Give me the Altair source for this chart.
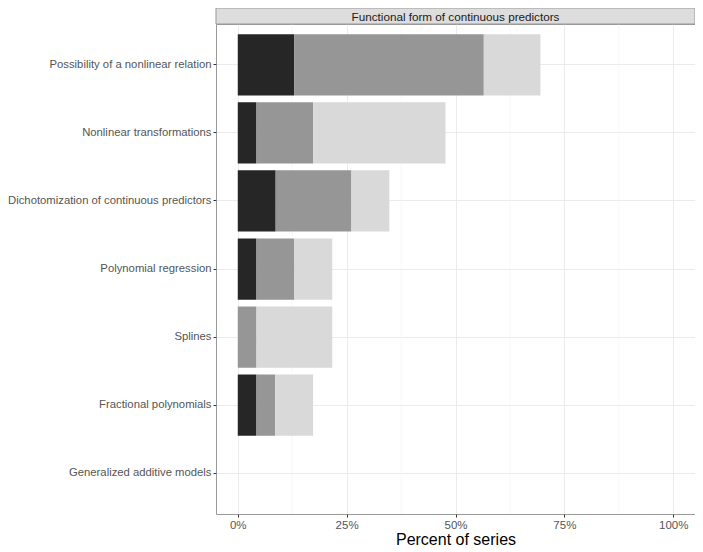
import altair as alt
import pandas as pd

# ---- data ----
categories = [
    "Possibility of a nonlinear relation",
    "Nonlinear transformations",
    "Dichotomization of continuous predictors",
    "Polynomial regression",
    "Splines",
    "Fractional polynomials",
    "Generalized additive models",
]
series = ["Group 1", "Group 2", "Group 3"]
# segment widths (percent of series), per category, per series
seg_dark = [13.0, 4.3, 8.7, 4.3, 0.0, 4.3, 0.0]
seg_mid = [43.5, 13.0, 17.4, 8.7, 4.3, 4.3, 0.0]
seg_light = [13.0, 30.4, 8.7, 8.7, 17.4, 8.7, 0.0]
colors = ["#262626", "#969696", "#D9D9D9"]
major_ticks = [0, 25, 50, 75, 100]
minor_ticks = [12.5, 37.5, 62.5, 87.5]
strip_label = "Functional form of continuous predictors"

rows = []
for i, cat in enumerate(categories):
    for j, vals in enumerate([seg_dark, seg_mid, seg_light]):
        rows.append({"category": cat, "series": series[j], "value": vals[i], "order": j})
df = pd.DataFrame(rows)

W = 479
H = 490
STRIP_H = 16
FONT = "Liberation Sans"

xscale = alt.Scale(domain=[-5, 105], nice=False, zero=False)

minor = alt.Chart(pd.DataFrame({"v": minor_ticks})).mark_rule(
    color="#F2F2F2", strokeWidth=0.6
).encode(x=alt.X("v:Q", scale=xscale))

bars = alt.Chart(df).mark_bar(stroke=None).encode(
    y=alt.Y(
        "category:N",
        sort=categories,
        scale=alt.Scale(paddingInner=0.1, paddingOuter=0.15),
        axis=alt.Axis(
            title=None, domain=False, grid=True, gridColor="#EBEBEB",
            tickColor="#333333", tickSize=3, labelColor="#555555",
            labelFontSize=11.3, labelLimit=0, labelPadding=2,
        ),
    ),
    x=alt.X(
        "value:Q",
        stack="zero",
        scale=xscale,
        axis=alt.Axis(
            values=major_ticks, labelExpr="datum.value + '%'",
            title="Percent of series", titleFontSize=16, titleFontWeight="normal",
            titleColor="#000000", titlePadding=1,
            domain=False, grid=True, gridColor="#EBEBEB",
            tickColor="#333333", tickSize=3, labelColor="#555555",
            labelFontSize=11.5, labelPadding=2,
        ),
    ),
    color=alt.Color("series:N", scale=alt.Scale(domain=series, range=colors), legend=None),
    order=alt.Order("order:Q"),
)

strip_df = pd.DataFrame({"label": [strip_label]})
strip_rect = alt.Chart(strip_df).mark_rect(fill="#DDDDDD", stroke="#999999").encode(
    x=alt.value(0), x2=alt.value(W), y=alt.value(-STRIP_H), y2=alt.value(0)
)
strip_text = alt.Chart(strip_df).mark_text(
    fontSize=11.7, color="#1A1A1A", baseline="middle", align="center"
).encode(x=alt.value(W / 2), y=alt.value(-STRIP_H / 2 + 0.5), text="label:N")

chart = alt.layer(minor, bars, strip_rect, strip_text).properties(
    width=W, height=H,
    autosize=alt.AutoSizeParams(type="none"),
    padding={"left": 208, "top": STRIP_H, "right": 0, "bottom": 38},
).configure(font=FONT).configure_view(stroke="#999999", strokeWidth=1)

chart.save("out.html", embed_options={"renderer": "svg", "actions": False})
